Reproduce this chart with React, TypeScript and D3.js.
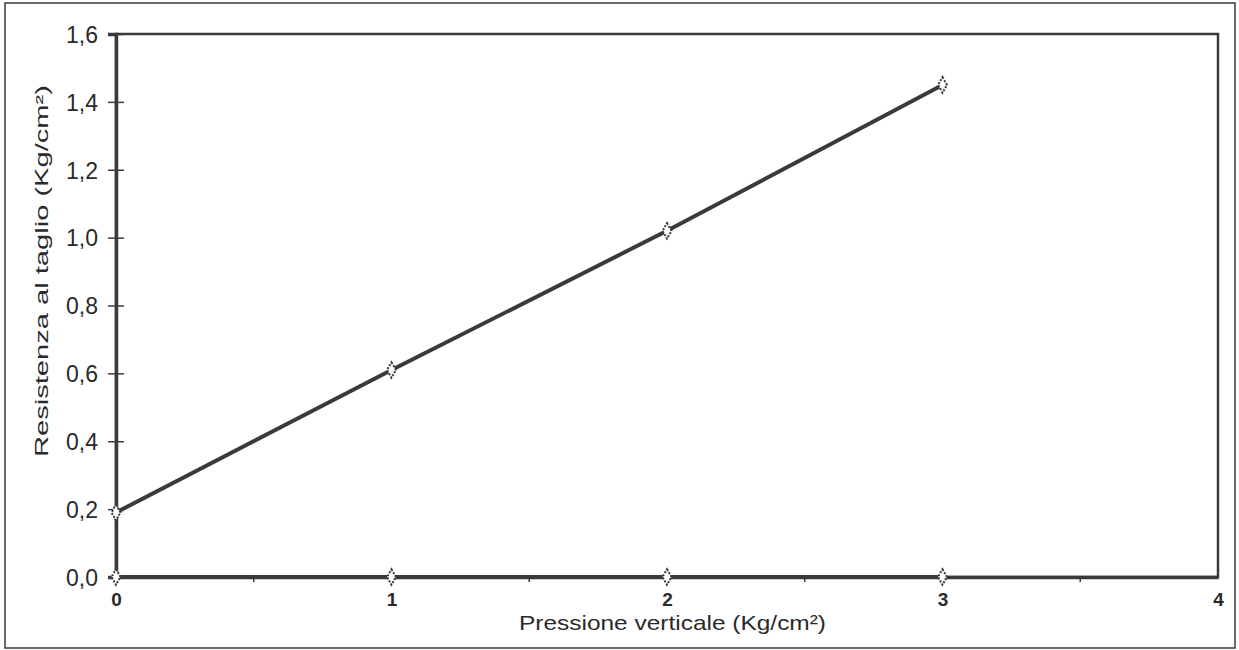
import React, { useEffect, useRef } from 'react';
import * as d3 from 'd3';

const pressione = [0, 1, 2, 3];
const resistenza = [0.19, 0.61, 1.02, 1.45];
const baseline = [0, 0, 0, 0];
const xTicks = [0, 1, 2, 3, 4];
const yTicks = [0, 0.2, 0.4, 0.6, 0.8, 1.0, 1.2, 1.4, 1.6];
const xMinorTicks = [0.5, 1.5, 2.5, 3.5];

const App: React.FC = () => {
  const svgRef = useRef<SVGSVGElement>(null);

  useEffect(() => {
    if (!svgRef.current) return;
    const svg = d3.select(svgRef.current);
    svg.selectAll('*').remove();

    const width = 1239;
    const height = 650;
    const margin = { top: 34, right: 21, bottom: 73, left: 116 };
    const ink = '#3a3a3a';
    const font = 'Arial, "Liberation Sans", sans-serif';

    // cornice esterna
    svg.append('rect')
      .attr('x', 5).attr('y', 3)
      .attr('width', 1230).attr('height', 645)
      .attr('fill', 'none').attr('stroke', ink).attr('stroke-width', 1.5);

    const x = d3.scaleLinear().domain([0, 4]).range([margin.left, width - margin.right]);
    const y = d3.scaleLinear().domain([0, 1.6]).range([height - margin.bottom, margin.top]);

    // riquadro area grafico
    svg.append('rect')
      .attr('x', x(0)).attr('y', y(1.6))
      .attr('width', x(4) - x(0)).attr('height', y(0) - y(1.6))
      .attr('fill', 'none').attr('stroke', ink).attr('stroke-width', 2.5);

    // asse Y
    const yAxis = svg.append('g')
      .attr('transform', `translate(${x(0)},0)`)
      .call(d3.axisLeft(y).tickValues(yTicks).tickSize(8).tickPadding(10)
        .tickFormat(d => d3.format('.1f')(d as number).replace('.', ',')));
    yAxis.select('.domain').attr('stroke', ink).attr('stroke-width', 3.5);
    yAxis.selectAll('.tick line').attr('stroke', ink).attr('stroke-width', 1.5).attr('x1', 8);
    yAxis.selectAll('text')
      .attr('font-size', 23).attr('font-family', font).attr('fill', '#2a2a2a')
      .attr('dy', '0.36em');

    // asse X
    const xAxis = svg.append('g')
      .attr('transform', `translate(0,${y(0)})`)
      .call(d3.axisBottom(x).tickValues(xTicks).tickSize(0).tickPadding(0).tickFormat(d3.format('d')));
    xAxis.select('.domain').attr('stroke', ink).attr('stroke-width', 3.5);
    xAxis.selectAll('text')
      .attr('y', 29).attr('dy', 0)
      .attr('font-size', 19).attr('font-weight', 'bold').attr('font-family', font).attr('fill', '#2a2a2a');

    svg.append('g').selectAll('line')
      .data(xMinorTicks)
      .enter().append('line')
      .attr('x1', d => x(d)).attr('x2', d => x(d))
      .attr('y1', y(0)).attr('y2', y(0) + 5)
      .attr('stroke', ink).attr('stroke-width', 1.5);

    // titoli assi
    svg.append('text')
      .attr('x', 519).attr('y', 630)
      .attr('textLength', 307).attr('lengthAdjust', 'spacingAndGlyphs')
      .attr('font-size', 21).attr('font-family', font).attr('fill', '#2a2a2a')
      .text('Pressione verticale (Kg/cm²)');

    svg.append('text')
      .attr('transform', `translate(48,457) rotate(-90)`)
      .attr('textLength', 372).attr('lengthAdjust', 'spacingAndGlyphs')
      .attr('font-size', 18).attr('font-family', font).attr('fill', '#2a2a2a')
      .text('Resistenza al taglio (Kg/cm²)');

    const line = d3.line<number>()
      .x((_, i) => x(pressione[i]))
      .y(d => y(d));

    [baseline, resistenza].forEach(series => {
      svg.append('path')
        .datum(series)
        .attr('d', line)
        .attr('fill', 'none')
        .attr('stroke', ink)
        .attr('stroke-width', 4);

      svg.append('g').selectAll('path')
        .data(series)
        .enter().append('path')
        .attr('transform', (d, i) => `translate(${x(pressione[i])},${y(d)})`)
        .attr('d', d3.symbol(d3.symbolDiamond, 70)())
        .attr('fill', '#fff')
        .attr('stroke', ink)
        .attr('stroke-width', 2)
        .attr('stroke-dasharray', '2,1.5');
    });
  }, []);

  return (
    <svg
      ref={svgRef}
      width={1239}
      height={650}
      style={{ position: 'absolute', left: 0, top: 0, background: '#fff' }}
    ></svg>
  );
};

export default App;
